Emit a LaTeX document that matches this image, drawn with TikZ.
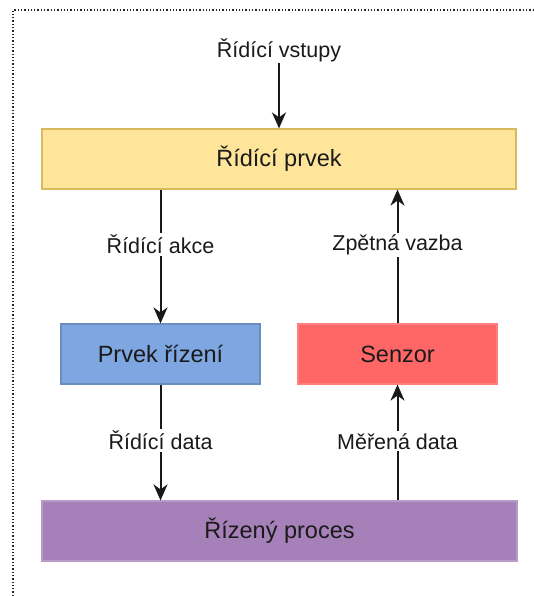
\documentclass[tikz,border=0pt]{standalone}
\usepackage{fontspec}
\setmainfont{Liberation Sans}
\usetikzlibrary{arrows.meta}
\definecolor{txt}{HTML}{1A1A1A}
\definecolor{yelfill}{HTML}{FFE599}
\definecolor{yeldraw}{HTML}{D9B95E}
\definecolor{bluefill}{HTML}{7EA6E0}
\definecolor{bluedraw}{HTML}{6C8EBF}
\definecolor{redfill}{HTML}{FF6666}
\definecolor{reddraw}{HTML}{FF8080}
\definecolor{purfill}{HTML}{A680B8}
\definecolor{purdraw}{HTML}{B89BC9}
\tikzset{
  blockbox/.style={rectangle, minimum height=60pt, inner sep=0pt, line width=1.2pt,
    text=txt, font=\fontsize{23.5}{28}\selectfont},
  edgelbl/.style={fill=white, inner sep=2pt, text=txt, font=\fontsize{21.5}{26}\selectfont},
  flow/.style={line width=2pt, draw=black!90, -{Stealth[length=16pt,width=14pt,inset=5pt]}}
}
\begin{document}
\begin{tikzpicture}[x=1pt,y=-1pt]
\useasboundingbox (0,0) rectangle (534,596);
% frame
\draw[black!85, line width=1.3pt, dotted] (13,596) -- (13,10) -- (534,10);

% blocks
\node[blockbox, fill=yelfill, draw=yeldraw, minimum width=474pt] (ctrl) at (279,159) {Řídící prvek};
\node[blockbox, fill=bluefill, draw=bluedraw, minimum width=199pt] (act) at (160.5,354) {Prvek řízení};
\node[blockbox, fill=redfill, draw=reddraw, minimum width=199pt] (sens) at (397.5,354) {Senzor};
\node[blockbox, fill=purfill, draw=purdraw, minimum width=475pt] (proc) at (279.5,531) {Řízený proces};

% input
\node[edgelbl, anchor=south, inner sep=1pt] (inp) at (279,63) {Řídící vstupy};
\draw[flow] (inp.south) -- (ctrl.north);

% forward path
\draw[flow] (ctrl.south -| act.north) -- node[edgelbl, pos=0.41] {Řídící akce} (act.north);
\draw[flow] (act.south) -- node[edgelbl, pos=0.48] {Řídící data} (proc.north -| act.south);

% feedback path
\draw[flow] (proc.north -| sens.south) -- node[edgelbl, pos=0.51] {Měřená data} (sens.south);
\draw[flow] (sens.north) -- node[edgelbl, pos=0.585] {Zpětná vazba} (ctrl.south -| sens.north);
\end{tikzpicture}
\end{document}
